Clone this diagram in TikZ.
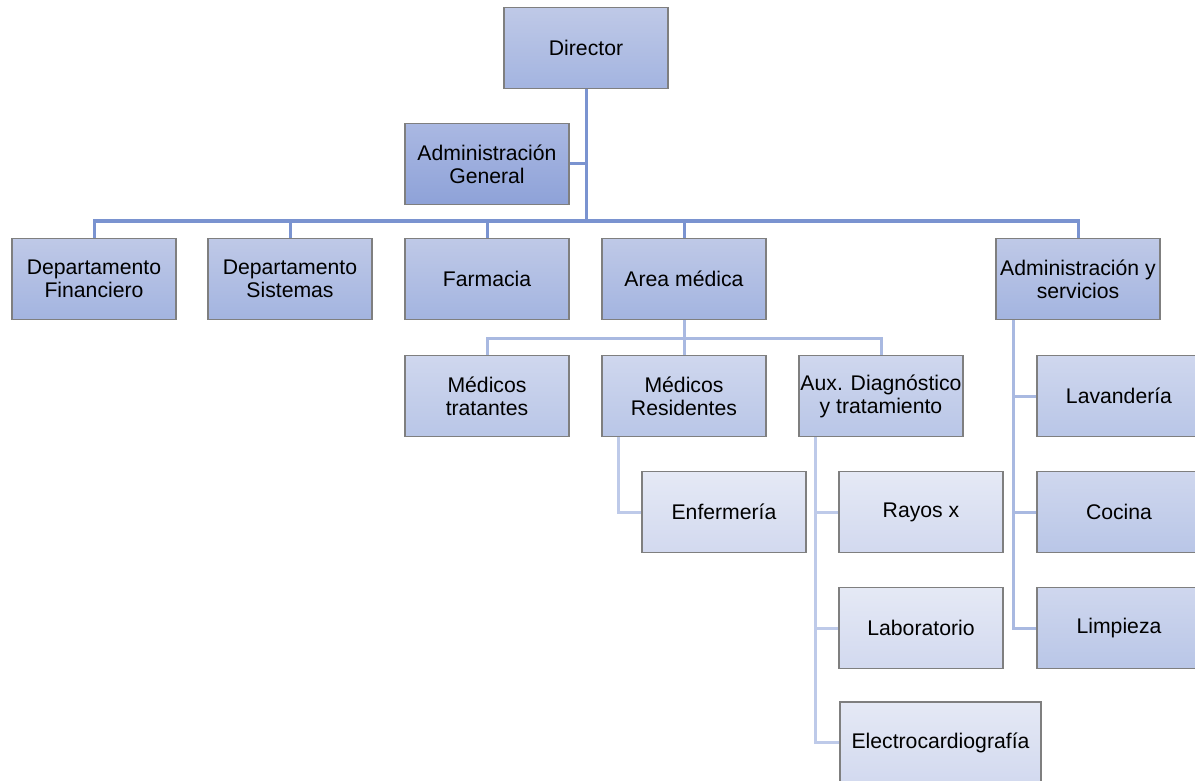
\documentclass[tikz,border=0pt]{standalone}
\usepackage{fontspec}
\setmainfont{Liberation Sans}
\usetikzlibrary{calc}
\definecolor{bordeg}{HTML}{7F7F7F}
\definecolor{lin1}{HTML}{7A93D0}
\definecolor{lin2}{HTML}{A9B9E1}
\definecolor{lin3}{HTML}{BECAE9}
\definecolor{a0}{HTML}{AAB8E2}
\definecolor{b0}{HTML}{8EA2D8}
\definecolor{a1}{HTML}{BFC9E7}
\definecolor{b1}{HTML}{A3B4E0}
\definecolor{a2}{HTML}{CFD7EE}
\definecolor{b2}{HTML}{B9C6E7}
\definecolor{a3}{HTML}{E5E9F5}
\definecolor{b3}{HTML}{D2D9EF}
\tikzset{
caja/.style={rectangle,draw=bordeg,line width=1.2pt,minimum width=164pt,minimum height=81pt,inner sep=0pt,align=center,font=\fontsize{21.2}{23}\selectfont},
c0/.style={caja,top color=a0,bottom color=b0},
c1/.style={caja,top color=a1,bottom color=b1},
c2/.style={caja,top color=a2,bottom color=b2},
c3/.style={caja,top color=a3,bottom color=b3},
lin/.style={line width=3pt,draw=lin1},
linb/.style={line width=3pt,draw=lin2},
linc/.style={line width=3pt,draw=lin3},
}
\begin{document}
\begin{tikzpicture}[x=1pt,y=-1pt]
\useasboundingbox[fill=white] (0,0) rectangle (1195,781);

\node[c1] (dir) at (586,48) {Director};
\node[c0] (adm) at (487,164) {Administración\\General};

\node[c1] (fin) at (94,279) {Departamento\\Financiero};
\node[c1] (sis) at (290,279) {Departamento\\Sistemas};
\node[c1] (far) at (487,279) {Farmacia};
\node[c1] (med) at (684,279) {Area médica};
\node[c1] (ays) at (1078,279) {Administración y\\servicios};

\node[c2] (mtr) at (487,396) {Médicos\\tratantes};
\node[c2] (mre) at (684,396) {Médicos\\Residentes};
\node[c2] (aux) at (881,396) {Aux. Diagnóstico\\y tratamiento};

\node[c3] (enf) at (724,512) {Enfermería};
\node[c3] (ray) at (921,512) {Rayos x};
\node[c3] (lab) at (921,628) {Laboratorio};
\node[c3,minimum width=201pt] (ecg) at (940.5,742.5) {Electrocardiografía};

\node[c2] (lav) at (1119,396) {Lavandería};
\node[c2] (coc) at (1119,512) {Cocina};
\node[c2] (lim) at (1119,628) {Limpieza};

\coordinate (bus1) at (586,221);
\coordinate (bus2) at (684,338);
\draw[lin] (dir.south) -- (bus1);
\draw[lin] (dir.south |- adm.east) -- (adm.east);
\foreach \n in {fin,sis,far,med,ays}
  \draw[lin] (bus1) -| (\n.north);

\draw[linb] (med.south) -- (bus2);
\foreach \n in {mtr,mre,aux}
  \draw[linb] (bus2) -| (\n.north);

\draw[linc] ($(mre.south west)+(17,0)$) |- (enf.west);
\foreach \n in {ray,lab,ecg}
  \draw[linc] ($(aux.south west)+(17,0)$) |- (\n.west);
\foreach \n in {lav,coc,lim}
  \draw[linb] ($(ays.south west)+(18,0)$) |- (\n.west);
\end{tikzpicture}
\end{document}
